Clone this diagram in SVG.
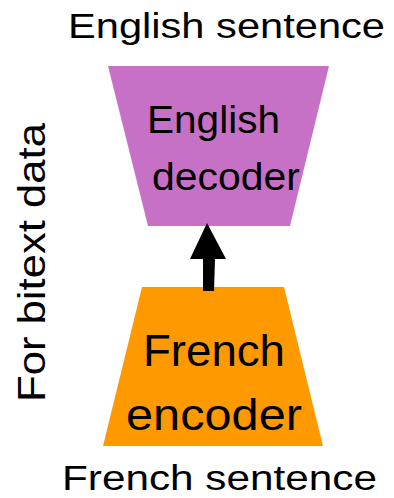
<svg xmlns="http://www.w3.org/2000/svg" width="394" height="498" viewBox="0 0 394 498">
  <style>
    text { font-family: "Liberation Sans", Arial, sans-serif; fill: #000; }
    .dec { fill: #c771c6; }
    .enc { fill: #ff9900; }
  </style>
  <rect width="394" height="498" fill="#ffffff"/>

  <!-- side label -->
  <text id="side-label" transform="translate(45,402) rotate(-90)" font-size="38" textLength="279" lengthAdjust="spacingAndGlyphs">For bitext data</text>

  <!-- output label -->
  <text id="top-label" x="68" y="38" font-size="35" textLength="317" lengthAdjust="spacingAndGlyphs">English sentence</text>

  <!-- decoder -->
  <g id="decoder">
    <polygon class="dec" points="108,66 329,66 290,226 148,226"/>
    <text x="147" y="133" font-size="39" textLength="133" lengthAdjust="spacingAndGlyphs">English</text>
    <text x="152" y="190" font-size="39" textLength="148" lengthAdjust="spacingAndGlyphs">decoder</text>
  </g>

  <!-- encoder -->
  <g id="encoder">
    <polygon class="enc" points="142,287 284,287 323,446 103,446"/>
    <text x="143" y="366" font-size="44" textLength="142" lengthAdjust="spacingAndGlyphs">French</text>
    <text x="126" y="430" font-size="44" textLength="176" lengthAdjust="spacingAndGlyphs">encoder</text>
  </g>

  <!-- input label -->
  <text id="bottom-label" x="62" y="490" font-size="35" textLength="315" lengthAdjust="spacingAndGlyphs">French sentence</text>

  <!-- connectors -->
  <g id="connectors">
    <polygon fill="#000" points="203,291 214,291 215,259 226,259 207,223 190,259 203,259"/>
  </g>
</svg>
